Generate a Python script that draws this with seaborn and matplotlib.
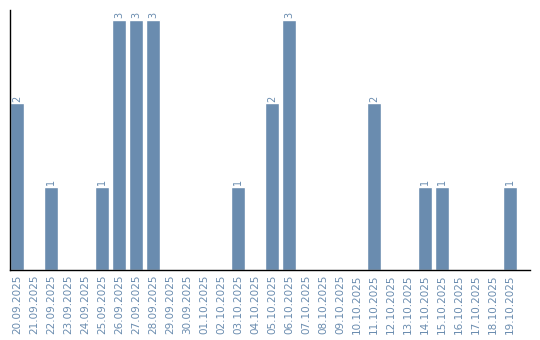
import matplotlib
matplotlib.use("Agg")
import matplotlib.pyplot as plt
import seaborn as sns
import pandas as pd

dates = ["20.09.2025", "21.09.2025", "22.09.2025", "23.09.2025", "24.09.2025",
         "25.09.2025", "26.09.2025", "27.09.2025", "28.09.2025", "29.09.2025",
         "30.09.2025", "01.10.2025", "02.10.2025", "03.10.2025", "04.10.2025",
         "05.10.2025", "06.10.2025", "07.10.2025", "08.10.2025", "09.10.2025",
         "10.10.2025", "11.10.2025", "12.10.2025", "13.10.2025", "14.10.2025",
         "15.10.2025", "16.10.2025", "17.10.2025", "18.10.2025", "19.10.2025"]
counts = [2, 0, 1, 0, 0, 1, 3, 3, 3, 0,
          0, 0, 0, 1, 0, 2, 3, 0, 0, 0,
          0, 2, 0, 0, 1, 1, 0, 0, 0, 1]

sns.set_style("white")
plt.rcParams['font.family'] = ['DejaVu Sans']
color = "#6a8caf"

df = pd.DataFrame({"date": dates, "count": counts})
fig = plt.figure(figsize=(5.4, 3.4), dpi=100)
ax = fig.add_axes([10/540, 70/340, 520/540, 260/340])
sns.barplot(data=df, x="date", y="count", color=color, saturation=1,
            width=0.82, ax=ax, order=dates)

for i, v in enumerate(counts):
    if v > 0:
        ax.text(i, v + 0.02, str(v), rotation=90, ha="center", va="bottom",
                fontsize=7, color=color)

ax.set_xlim(-0.41, 30.18)
ax.set_ylim(0, 3.12)
ax.set_xlabel("")
ax.set_ylabel("")
ax.set_yticks([])
ax.tick_params(axis="x", length=0, pad=3, labelsize=7.5, labelcolor=color)
for lbl in ax.get_xticklabels():
    lbl.set_rotation(90)
for s in ["top", "right"]:
    ax.spines[s].set_visible(False)
for s in ["left", "bottom"]:
    ax.spines[s].set_color("black")
    ax.spines[s].set_linewidth(1)

fig.savefig("out.png", dpi=100)
